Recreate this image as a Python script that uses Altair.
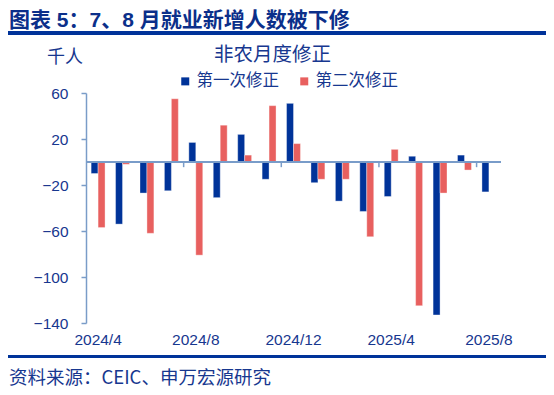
import altair as alt
import pandas as pd

# ---------------- data ----------------
months = ["2024/4", "2024/5", "2024/6", "2024/7", "2024/8", "2024/9", "2024/10",
          "2024/11", "2024/12", "2025/1", "2025/2", "2025/3", "2025/4", "2025/5",
          "2025/6", "2025/7", "2025/8"]
first_rev = [-10, -54, -27, -25, 17, -31, 24, -15, 51, -18, -34, -43, -30, 5, -133, 6, -26]
second_rev = [-57, -2, -62, 55, -81, 32, 6, 49, 16, -15, -15, -65, 11, -125, -27, -7, None]
series_names = ["第一次修正", "第二次修正"]
y_ticks = [-140, -100, -60, -20, 20, 60]
x_label_months = ["2024/4", "2024/8", "2024/12", "2025/4", "2025/8"]
tick_boundaries = [4, 8, 12, 16]

header_title = "图表 5：7、8 月就业新增人数被下修"
chart_title = "非农月度修正"
unit_label = "千人"
source_text = "资料来源：CEIC、申万宏源研究"

# ---------------- styles ----------------
BLUE = "#003399"
RED = "#E8605F"
TEXT = "#17378F"
HEAD = "#0B2F8A"
AX = "#7A9CC8"
CJK = "Noto Sans CJK SC"
LAT = "Liberation Sans"
MIX = "Liberation Sans, 'Noto Sans CJK SC'"

rows = []
for m, a, b in zip(months, first_rev, second_rev):
    rows.append({"month": m, "series": series_names[0], "value": a})
    if b is not None:
        rows.append({"month": m, "series": series_names[1], "value": b})
df = pd.DataFrame(rows)

bars = alt.Chart(df).mark_bar(stroke="white", strokeWidth=0.6, strokeOpacity=0.6).encode(
    x=alt.X("month:N", sort=months,
            scale=alt.Scale(paddingInner=0.43, paddingOuter=0.21),
            axis=alt.Axis(values=x_label_months, title=None, domain=False, ticks=False,
                          labelAngle=0, labelFont=LAT, labelFontSize=15.5,
                          labelColor=TEXT, labelPadding=9)),
    xOffset=alt.XOffset("series:N", sort=series_names,
                        scale=alt.Scale(paddingInner=0, paddingOuter=0)),
    y=alt.Y("value:Q", scale=alt.Scale(domain=[-140, 60], nice=False, zero=False),
            axis=alt.Axis(values=y_ticks, title=None, grid=False, domainColor=AX,
                          domainWidth=1.5, tickColor=AX, tickWidth=1.5, tickSize=5,
                          labelFont=LAT, labelFontSize=15.5, labelColor=TEXT,
                          labelPadding=13)),
    color=alt.Color("series:N", sort=series_names,
                    scale=alt.Scale(domain=series_names, range=[BLUE, RED]),
                    legend=alt.Legend(orient="none", legendX=91, legendY=-20,
                                      direction="horizontal", title=None,
                                      symbolType="square", symbolSize=64,
                                      symbolStrokeWidth=0, labelFont=CJK,
                                      labelFontSize=16.5, labelColor=TEXT,
                                      columnPadding=17, labelOffset=3)),
)

zero_line = alt.Chart(df).mark_rule(color=AX, strokeWidth=1.5).encode(y=alt.datum(0))

ticks = alt.Chart(pd.DataFrame({"b": tick_boundaries})).mark_rule(
    color=AX, strokeWidth=1.5).encode(
    x=alt.X("b:Q", scale=alt.Scale(domain=[0, 17], nice=False, zero=False), axis=None),
    y=alt.datum(0), y2=alt.datum(-4.5),
)

def txt(s, x, y, size, color=TEXT, weight="normal", align="center", font=CJK):
    return alt.Chart(pd.DataFrame({"t": [s]})).mark_text(
        font=font, fontSize=size, fontWeight=weight, color=color, align=align,
        baseline="middle").encode(x=alt.value(x), y=alt.value(y), text="t:N")

header = txt(header_title, -77, -72.5, 21, HEAD, "bold", "left", MIX)
title = txt(chart_title, 186.5, -38, 19.5)
unit = txt(unit_label, -21, -35.5, 18)
source = txt(source_text, -77, 284.5, 18.5, TEXT, "normal", "left")

top_line = alt.Chart(df).mark_rule(color=BLUE, strokeWidth=3).encode(
    x=alt.value(-78), x2=alt.value(462), y=alt.value(-60))
bottom_line = alt.Chart(df).mark_rule(color=BLUE, strokeWidth=3).encode(
    x=alt.value(-78), x2=alt.value(460), y=alt.value(263.5))

chart = alt.layer(
    bars, zero_line, ticks, header, title, unit, source, top_line, bottom_line
).resolve_scale(x="independent").properties(
    width=415, height=230,
    autosize=alt.AutoSizeParams(type="none"),
    padding={"left": 78, "top": 85, "right": 45, "bottom": 64},
).configure_view(stroke=None)

chart.save("out.html", embed_options={"renderer": "svg", "actions": False})
